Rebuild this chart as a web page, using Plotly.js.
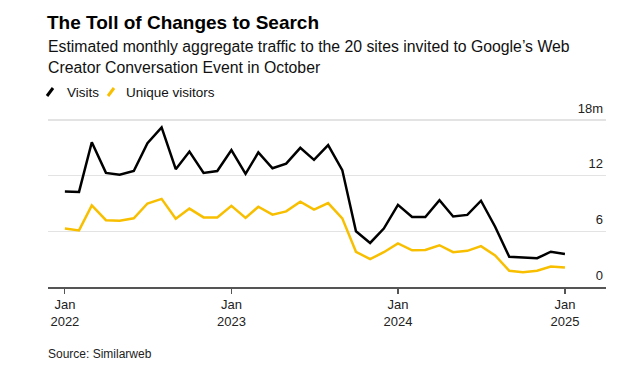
<!DOCTYPE html>
<html>
<head>
<meta charset="utf-8">
<script src="https://cdn.plot.ly/plotly-3.0.1.min.js"></script>
<style>html,body{margin:0;padding:0;background:#fff;}#chart{width:640px;height:369px;}</style>
</head>
<body>
<div id="chart"></div>
<script>
const months = [
  '2022-01-01','2022-02-01','2022-03-01','2022-04-01','2022-05-01','2022-06-01',
  '2022-07-01','2022-08-01','2022-09-01','2022-10-01','2022-11-01','2022-12-01',
  '2023-01-01','2023-02-01','2023-03-01','2023-04-01','2023-05-01','2023-06-01',
  '2023-07-01','2023-08-01','2023-09-01','2023-10-01','2023-11-01','2023-12-01',
  '2024-01-01','2024-02-01','2024-03-01','2024-04-01','2024-05-01','2024-06-01',
  '2024-07-01','2024-08-01','2024-09-01','2024-10-01','2024-11-01','2024-12-01',
  '2025-01-01'
];
const visits = [
  10.3, 10.25, 15.6, 12.3, 12.1, 12.5, 15.5, 17.2, 12.7, 14.6, 12.3, 12.5,
  14.75, 12.2, 14.5, 12.8, 13.3, 15.0, 13.7, 15.3, 12.6, 6.0, 4.75, 6.3,
  8.85, 7.55, 7.55, 9.35, 7.6, 7.77, 9.3, 6.5, 3.25, 3.2, 3.1, 3.8,
  3.55
];
const uniqueVisitors = [
  6.3, 6.1, 8.8, 7.2, 7.15, 7.4, 9.0, 9.5, 7.35, 8.45, 7.5, 7.5,
  8.75, 7.45, 8.65, 7.8, 8.15, 9.2, 8.35, 9.05, 7.4, 3.8, 3.0, 3.75,
  4.7, 3.95, 4.0, 4.5, 3.75, 3.9, 4.4, 3.4, 1.75, 1.6, 1.75, 2.2,
  2.1
];
const seriesNames = ['Visits', 'Unique visitors'];
const xTickVals = ['2022-01-01','2023-01-01','2024-01-01','2025-01-01'];
const xTickText = ['Jan<br>2022','Jan<br>2023','Jan<br>2024','Jan<br>2025'];
const yTickVals = [0, 6, 12, 18];
const yTickText = ['0', '6', '12', '18m'];

const BLACK = '#000000';
const YELLOW = '#f8bf00';
const FONT = 'Liberation Sans, Arial, sans-serif';

const traces = [
  {x: months, y: uniqueVisitors, type: 'scatter', mode: 'lines', name: seriesNames[1],
   line: {color: YELLOW, width: 2.5}, hoverinfo: 'skip'},
  {x: months, y: visits, type: 'scatter', mode: 'lines', name: seriesNames[0],
   line: {color: BLACK, width: 2.5}, hoverinfo: 'skip'}
];

// plot area: left 48, width 558, top 100, bottom 287 (0 at 287, 18 at 120)
const L = 48, W = 558, TOP = 100, BOTTOM = 287, H = BOTTOM - TOP;
const Y_TOP = H * 18 / (BOTTOM - 120);
function py(p) { return (BOTTOM - p) / H; }
function px(p) { return (p - L) / W; }

function slash(x0, color) {
  return {type: 'line', xref: 'paper', yref: 'paper',
          x0: px(x0), y0: py(96), x1: px(x0 + 6), y1: py(88),
          line: {color: color, width: 3}};
}

const layout = {
  width: 640, height: 369,
  margin: {l: L, r: 640 - L - W, t: TOP, b: 369 - BOTTOM, pad: 0},
  paper_bgcolor: '#fff', plot_bgcolor: '#fff',
  showlegend: false,
  font: {family: FONT, color: '#222'},
  title: {
    text: '<b>The Toll of Changes to Search</b>',
    font: {family: FONT, size: 19, color: '#000'},
    xref: 'container', x: 47/640, xanchor: 'left',
    yref: 'container', y: 1 - 22/369, yanchor: 'middle'
  },
  xaxis: {
    type: 'date', range: ['2021-11-25', '2025-04-01'],
    tickvals: xTickVals, ticktext: xTickText,
    ticks: 'outside', ticklen: 5, tickwidth: 1.2, tickcolor: '#555',
    showline: true, linecolor: '#555', linewidth: 1.5,
    showgrid: false, zeroline: false,
    tickfont: {family: FONT, size: 13, color: '#222'},
    fixedrange: true
  },
  yaxis: {
    range: [0, Y_TOP], side: 'right',
    tickvals: yTickVals, ticktext: yTickText,
    ticklabelposition: 'inside', ticks: '',
    ticklabelshift: -12,
    showgrid: true, gridcolor: '#e3e3e3', gridwidth: 1.5,
    zeroline: false, showline: false,
    tickfont: {family: FONT, size: 13, color: '#222'},
    fixedrange: true
  },
  shapes: [slash(47, BLACK), slash(108, YELLOW)],
  annotations: [
    {xref: 'paper', yref: 'paper', x: px(46), y: py(57.5), xanchor: 'left', yanchor: 'middle',
     align: 'left', showarrow: false,
     text: 'Estimated monthly aggregate traffic to the 20 sites invited to Google\u2019s Web<br>Creator Conversation Event in October',
     font: {family: FONT, size: 15.8, color: '#111'}},
    {xref: 'paper', yref: 'paper', x: px(65), y: py(92), xanchor: 'left', yanchor: 'middle',
     align: 'left', showarrow: false, text: seriesNames[0],
     font: {family: FONT, size: 13.5, color: '#111'}},
    {xref: 'paper', yref: 'paper', x: px(124), y: py(92), xanchor: 'left', yanchor: 'middle',
     align: 'left', showarrow: false, text: seriesNames[1],
     font: {family: FONT, size: 13.5, color: '#111'}},
    {xref: 'paper', yref: 'paper', x: px(46), y: py(354), xanchor: 'left', yanchor: 'middle',
     align: 'left', showarrow: false,
     text: 'Source: Similarweb',
     font: {family: FONT, size: 12, color: '#222'}}
  ]
};

Plotly.newPlot('chart', traces, layout, {displayModeBar: false, staticPlot: true});
</script>
</body>
</html>
